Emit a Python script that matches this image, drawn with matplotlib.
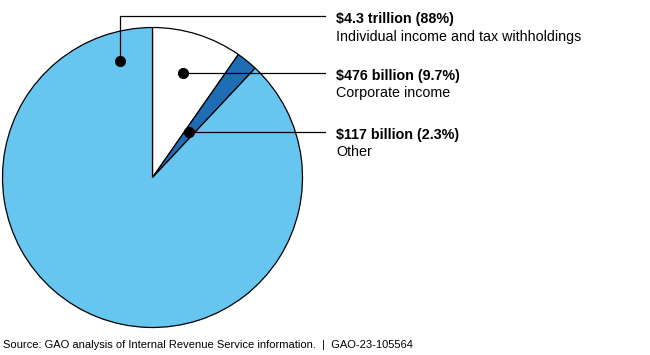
import matplotlib.pyplot as plt

# slice data, clockwise from 12 o'clock
categories = ["Corporate income", "Other", "Individual income and tax withholdings"]
shares = [9.7, 2.3, 88.0]
amounts = ["$476 billion", "$117 billion", "$4.3 trillion"]
colors = ["#ffffff", "#1f6db5", "#66c6ef"]

# label order on the right (top to bottom)
label_order = [2, 0, 1]

plt.rcParams['font.family'] = ['Liberation Sans', 'DejaVu Sans']

W, H = 650, 355
fig = plt.figure(figsize=(W / 100, H / 100), dpi=100)
ax = fig.add_axes([0, 0, 1, 1])

cx, cy, r = 152.5, H - 177.5, 150
wedges, _ = ax.pie(shares, colors=colors, startangle=90, counterclock=False,
                   center=(cx, cy), radius=r, frame=True,
                   wedgeprops=dict(edgecolor='black', linewidth=0.9))
ax.set_xlim(0, W)
ax.set_ylim(0, H)
ax.set_aspect('equal')
ax.axis('off')

# dot positions (image pixels) and leader line rows
dots = {2: (120, 61), 0: (183, 73), 1: (189, 132)}
rows = {2: 16, 0: 73, 1: 132}
line_end = 325
text_x = 336

for i in label_order:
    dx, dy = dots[i]
    ry = rows[i]
    if ry != dy:
        ax.plot([dx, dx, line_end], [H - dy, H - ry, H - ry], color='black', lw=0.9)
    else:
        ax.plot([dx, line_end], [H - dy, H - ry], color='black', lw=0.9)
    ax.plot(dx, H - dy, 'o', color='black', markersize=7)
    ax.text(text_x, H - ry - 3, f"{amounts[i]} ({shares[i]:g}%)", fontsize=10.3,
            fontweight='bold', va='center', ha='left')
    ax.text(text_x, H - ry - 20.5, categories[i], fontsize=10.3, va='center', ha='left')

ax.text(3, H - 345, "Source: GAO analysis of Internal Revenue Service information.  |  GAO-23-105564",
        fontsize=8.05, va='center', ha='left')

fig.savefig("out.png", dpi=100)
